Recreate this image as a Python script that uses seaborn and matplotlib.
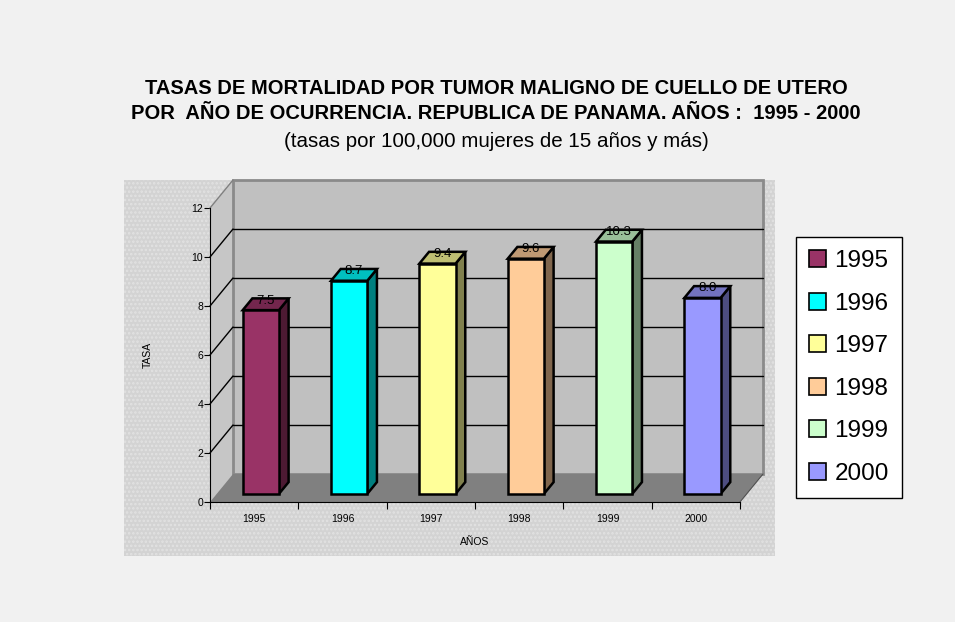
import numpy as np
import pandas as pd
import matplotlib
import matplotlib.pyplot as plt
import matplotlib.colors as mcolors
from matplotlib.patches import Polygon, Rectangle, Patch
import seaborn as sns

sns.set_style('white')
plt.rcParams['font.family'] = ['Liberation Sans', 'DejaVu Sans']
plt.rcParams['hatch.linewidth'] = 1.2
plt.rcParams['text.color'] = 'black'
plt.rcParams['axes.labelcolor'] = 'black'
plt.rcParams['xtick.color'] = 'black'
plt.rcParams['ytick.color'] = 'black'

# datos
years = ['1995', '1996', '1997', '1998', '1999', '2000']
rates = [7.5, 8.7, 9.4, 9.6, 10.3, 8.0]
bar_colors = ['#993366', '#00ffff', '#ffff99', '#ffcc99', '#ccffcc', '#9999ff']
y_ticks = [0, 2, 4, 6, 8, 10, 12]

title = ('TASAS DE MORTALIDAD POR TUMOR MALIGNO DE CUELLO DE UTERO\n'
         'POR  AÑO DE OCURRENCIA. REPUBLICA DE PANAMA. AÑOS :  1995 - 2000')
subtitle = '(tasas por 100,000 mujeres de 15 años y más)'

W, H = 955, 622


def shade(c, f):
    r, g, b = mcolors.to_rgb(c)
    return (r * f, g * f, b * f)


fig = plt.figure(figsize=(W / 100, H / 100), dpi=100)
fig.patch.set_facecolor('#f1f1f1')

# fondo del area del grafico
bg = Rectangle((124 / W, 1 - 556 / H), (775 - 124) / W, (556 - 180) / H,
               transform=fig.transFigure, facecolor='#d3d3d3',
               edgecolor='#e2e2e2', hatch='....', lw=0, zorder=-10)
fig.add_artist(bg)

ax = fig.add_axes([210 / W, 1 - 502 / H, 530 / W, 294 / H])
ax.set_zorder(1)
ax.patch.set_alpha(0)

df = pd.DataFrame({'year': years, 'rate': rates})
sns.barplot(data=df, x='year', y='rate', hue='year', palette=bar_colors, dodge=False,
            width=0.41, saturation=1, legend=False, edgecolor='black', linewidth=1.8,
            ax=ax, zorder=5)
bars = sorted(ax.patches, key=lambda p: p.get_x())

ax.set_xlim(-0.5, 5.5)
ax.set_ylim(0, 12)

# profundidad 3D en unidades de datos
DX = 23 / 530 * 6
DY = 28 / 294 * 12
OFF = 0.29
BD = 0.42

# paredes y piso
ax.add_patch(Polygon([(-0.5, 0), (-0.5 + DX, DY), (-0.5 + DX, 12 + DY), (-0.5, 12)],
                     closed=True, facecolor='#c6c6c6', edgecolor='none', clip_on=False, zorder=1))
ax.add_patch(Rectangle((-0.5 + DX, DY), 6, 12, facecolor='#c0c0c0', edgecolor='#8a8a8a',
                       lw=2, clip_on=False, zorder=1))
ax.add_patch(Polygon([(-0.5, 0), (5.5, 0), (5.5 + DX, DY), (-0.5 + DX, DY)], closed=True,
                     facecolor='#808080', edgecolor='none', clip_on=False, zorder=2))
ax.plot([5.5, 5.5 + DX], [0, DY], color='#505050', lw=0.8, clip_on=False, zorder=2)

for v in y_ticks[1:-1]:
    ax.plot([-0.5 + DX, 5.5 + DX], [v + DY, v + DY], color='black', lw=1, clip_on=False, zorder=2)
for v in y_ticks[1:]:
    col = '#808080' if v == 12 else 'black'
    ax.plot([-0.5, -0.5 + DX], [v, v + DY], color=col, lw=1, clip_on=False, zorder=2)

# caras laterales y superiores de las barras
bdx, bdy = BD * DX, BD * DY
for p, c, val in zip(bars, bar_colors, rates):
    p.set_x(p.get_x() + OFF * DX)
    p.set_y(p.get_y() + OFF * DY)
    p.set_clip_on(False)
    x0, x1 = p.get_x(), p.get_x() + p.get_width()
    y0, y1 = p.get_y(), p.get_y() + p.get_height()
    ax.add_patch(Polygon([(x1, y0), (x1 + bdx, y0 + bdy), (x1 + bdx, y1 + bdy), (x1, y1)],
                         closed=True, facecolor=shade(c, 0.5), edgecolor='black', lw=1.8,
                         joinstyle='miter', clip_on=False, zorder=4))
    ax.add_patch(Polygon([(x0, y1), (x1, y1), (x1 + bdx, y1 + bdy), (x0 + bdx, y1 + bdy)],
                         closed=True, facecolor=shade(c, 0.75), edgecolor='black', lw=1.8,
                         joinstyle='miter', clip_on=False, zorder=4))
    ax.text((x0 + x1) / 2 + bdx / 2, y1 + bdy * 0.8, f'{val:.1f}', ha='center', va='center',
            fontsize=9.5, color='black', zorder=6)

# ejes
for s in ['top', 'right']:
    ax.spines[s].set_visible(False)
for s in ['left', 'bottom']:
    ax.spines[s].set_color('black')
    ax.spines[s].set_linewidth(0.8)
    ax.spines[s].set_zorder(3)

ax.set_yticks(y_ticks)
ax.tick_params(axis='y', direction='out', length=4, width=0.8, labelsize=7.5, pad=1, left=True)
ax.set_xticks(range(len(years)))
ax.set_xticklabels(years)
ax.set_xticks(np.arange(-0.5, 6, 1), minor=True)
ax.tick_params(axis='x', which='major', length=0, labelsize=7.5, pad=9)
ax.tick_params(axis='x', which='minor', direction='out', length=5, width=0.8, bottom=True)
ax.set_xlabel('AÑOS', fontsize=7.5, labelpad=9)
ax.set_ylabel('TASA', fontsize=7.5, labelpad=28)

# titulos
fig.text(496 / W, 1 - 101 / H, title, ha='center', va='center', fontsize=14.5,
         fontweight='bold', linespacing=1.4, color='black')
fig.text(496 / W, 1 - 142 / H, subtitle, ha='center', va='center', fontsize=14.8,
         color='black')

# leyenda
handles = [Patch(facecolor=c, edgecolor='black', lw=1.2) for c in bar_colors]
leg = fig.legend(handles, years, loc='upper left', bbox_to_anchor=(796 / W, 1 - 237 / H),
                 frameon=True, fancybox=False, edgecolor='black', framealpha=1,
                 fontsize=17.5, handlelength=0.7, handleheight=0.7, handletextpad=0.33,
                 labelspacing=0.84, borderpad=0.55, borderaxespad=0)
leg.get_frame().set_linewidth(1)

fig.savefig('out.png', dpi=100, facecolor=fig.get_facecolor())
